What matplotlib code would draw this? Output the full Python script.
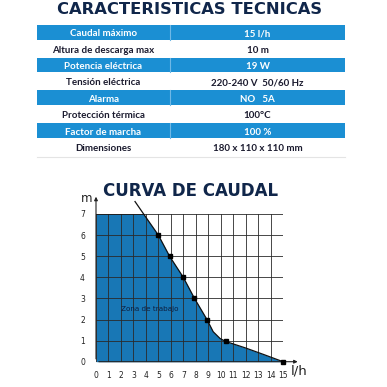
import matplotlib
matplotlib.use('Agg')
import matplotlib.pyplot as plt
from matplotlib.patches import Rectangle

#
#--- table data
#
spec_names  = ['Caudal máximo', 'Altura de descarga max', 'Potencia eléctrica',
               'Tensión eléctrica', 'Alarma', 'Protección térmica',
               'Factor de marcha', 'Dimensiones']
spec_values = ['15 l/h', '10 m', '19 W', '220-240 V  50/60 Hz', 'NO   5A',
               '100°C', '100 %', '180 x 110 x 110 mm']
#
#--- flow curve data
#
curve_q = [0, 3.82, 5, 5.9, 7, 7.9, 8.9, 9.4, 9.95, 10.4, 12, 13.5, 15]
curve_h = [7, 7, 6, 5, 4, 3, 2, 1.42, 1.1, 0.96, 0.65, 0.33, 0]
mark_q  = [5, 5.9, 7, 7.9, 8.9, 10.4, 15]
mark_h  = [6, 5, 4, 3, 2, 0.96, 0]
x_ticks = list(range(0, 16))
y_ticks = list(range(0, 8))

W = 387.0
H = 387.0
navy   = '#10264a'
tblue  = '#1b8fd3'
fblue  = '#1877b5'

fig = plt.figure(figsize=(3.87, 3.87), dpi=100)
fig.patch.set_facecolor('white')
#
#--- overlay axes in pixel coordinates
#
bg = fig.add_axes([0, 0, 1, 1])
bg.set_xlim(0, W)
bg.set_ylim(H, 0)
bg.axis('off')

bg.text(190, 10, 'CARACTERISTICAS TECNICAS', ha='center', va='center',
        fontsize=11.8, fontweight='heavy', color=navy, family='DejaVu Sans')

x0, x1, xm = 37, 345, 170
ytop = 24
rh = 16.4
for i, (nm, val) in enumerate(zip(spec_names, spec_values)):
    yc = ytop + rh * i + rh / 2 + 1.5
    if i % 2 == 0:
        bg.add_patch(Rectangle((x0, ytop + rh * i + 0.8), x1 - x0, rh - 1.6,
                               facecolor=tblue, edgecolor='none'))
        bg.plot([xm, xm], [ytop + rh * i + 0.8, ytop + rh * (i + 1) - 0.8],
                color='#6fb8e6', lw=0.8)
        col = 'white'
    else:
        col = '#1a1a2e'
    bg.text((x0 + xm) / 2, yc, nm, ha='center', va='center', fontsize=7,
            fontweight='bold', color=col, family='Lato')
    bg.text((xm + x1) / 2, yc, val, ha='center', va='center', fontsize=7,
            fontweight='bold', color=col, family='Lato')

bg.plot([x0, x1], [157, 157], color='#e4e4e4', lw=0.8)

bg.text(190.5, 191, 'CURVA DE CAUDAL', ha='center', va='center',
        fontsize=12, fontweight='heavy', color=navy, family='DejaVu Sans')
bg.text(87, 198, 'm', ha='center', va='center', fontsize=8.5, color='#222222')
bg.text(299, 371, 'l/h', ha='center', va='center', fontsize=9.5, color='#222222')

#
#--- flow curve axes
#
ax = fig.add_axes([96 / W, (H - 361.7) / H, 187 / W, 147.7 / H])
ax.set_xlim(0, 15)
ax.set_ylim(0, 7)
for s in ax.spines.values():
    s.set_visible(False)

ax.fill_between(curve_q, curve_h, 0, color=fblue, lw=0, zorder=1)
for xv in x_ticks:
    ax.plot([xv, xv], [0, 7], color='#2a2a2a', lw=0.6, zorder=2)
for yv in y_ticks:
    ax.plot([0, 15], [yv, yv], color='#2a2a2a', lw=0.6, zorder=2)
ax.plot(curve_q, curve_h, color='#111111', lw=0.9, zorder=3)
ax.plot([3.13, 3.82], [7.59, 7], color='#111111', lw=0.9, zorder=3, clip_on=False)
ax.plot(mark_q, mark_h, 's', color='black', ms=2.3, zorder=4, clip_on=False)
#
#--- axis arrows
#
ax.annotate('', xy=(0, 7.95), xytext=(0, 0),
            arrowprops=dict(arrowstyle='-|>', color='#222222', lw=0.8,
                            mutation_scale=5), annotation_clip=False)
ax.annotate('', xy=(16.4, 0), xytext=(0, 0),
            arrowprops=dict(arrowstyle='-|>', color='#222222', lw=0.8,
                            mutation_scale=5), annotation_clip=False)

ax.text(2.0, 2.5, 'Zona de trabajo', fontsize=5.2, color='#0d1f40',
        va='center', ha='left', zorder=5)

ax.set_xticks(x_ticks)
ax.set_yticks(y_ticks)
ax.set_xticklabels([str(v) for v in x_ticks], fontsize=5.5, color='#222222')
ax.set_yticklabels([str(v) for v in y_ticks], fontsize=5.5, color='#222222')
ax.tick_params(length=0, pad=7)
ax.tick_params(axis='y', pad=8)

plt.savefig('out.png', dpi=100, facecolor='white')
